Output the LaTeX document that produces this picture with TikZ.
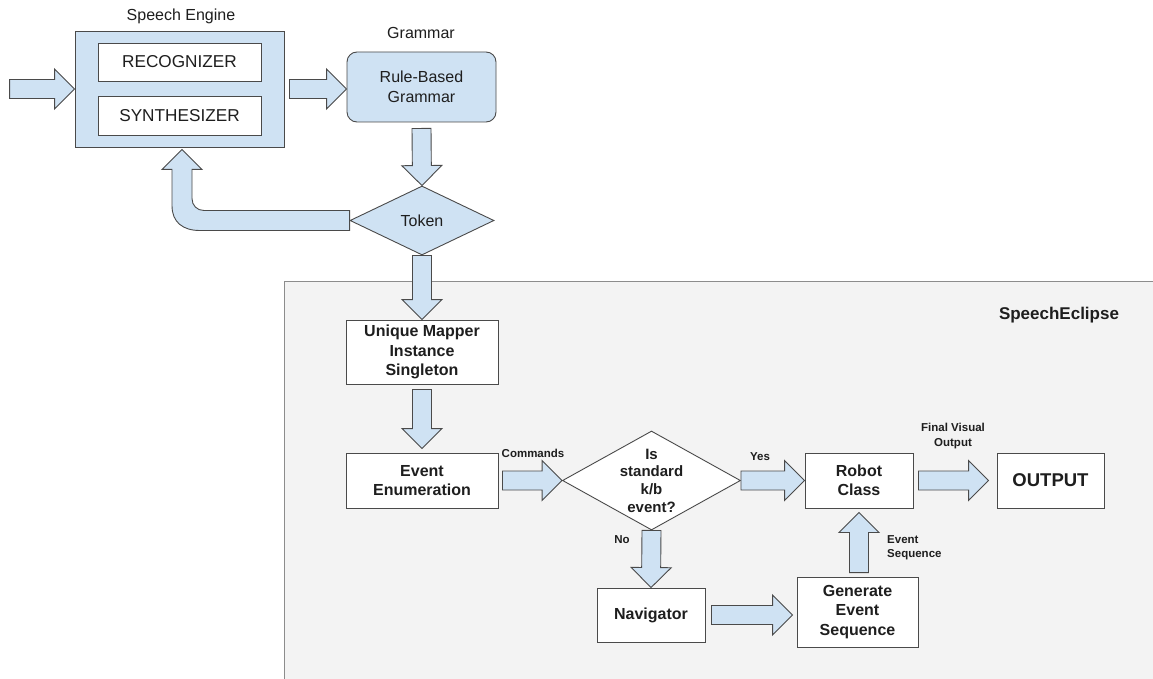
\documentclass[tikz,border=0pt]{standalone}
\usepackage{fontspec}
\setmainfont{Liberation Sans}
\usetikzlibrary{calc,shapes.geometric}
\definecolor{bfill}{HTML}{CFE2F3}
\definecolor{bline}{HTML}{4A4A4A}
\definecolor{gfill}{HTML}{F3F3F3}
\definecolor{gline}{HTML}{8C8C8C}
\definecolor{txt}{HTML}{1E1E1E}
\tikzset{
  barrow/.style={draw=bline, fill=bfill, line width=0.9pt, line join=miter},
  box/.style={draw=bline, fill=white, line width=0.9pt, inner sep=0pt, align=center, text=txt},
  bluebox/.style={box, fill=bfill},
  regtext/.style={font=\fontsize{16}{19.5}\selectfont},
  captext/.style={font=\fontsize{17.2}{20}\selectfont},
  boldtext/.style={font=\fontsize{16}{19.5}\selectfont\bfseries},
  smalltext/.style={font=\fontsize{11.5}{14.5}\selectfont\bfseries, text=txt, align=center, inner sep=0pt},
  dia/.style={shape=diamond, draw=bline, line width=0.9pt, inner sep=0pt},
}
\newcommand\BArrow[2]{%
  \path ($(#2)!20pt!(#1)$) coordinate (bb);
  \draw[barrow] ($(#1)!9.5pt!90:(#2)$) -- ($(bb)!9.5pt!90:(#2)$) -- ($(bb)!20pt!90:(#2)$) -- (#2)
    -- ($(bb)!20pt!-90:(#2)$) -- ($(bb)!9.5pt!-90:(#2)$) -- ($(#1)!9.5pt!-90:(#2)$) -- cycle;}
\begin{document}
\begin{tikzpicture}[x=1pt,y=-1pt]
\useasboundingbox[fill=white] (0,0) rectangle (1153,679);

% container
\node[draw=gline, fill=gfill, line width=1.3pt, minimum width=900pt, minimum height=420pt, anchor=north west, inner sep=0pt] (ecl) at (284,281) {};
\node[font=\fontsize{17}{20}\selectfont\bfseries, text=txt, inner sep=0pt] (ecllab) at (1059,315) {SpeechEclipse};

% speech engine
\node[bluebox, minimum width=209pt, minimum height=116pt] (se) at (179.5,89) {};
\node[box, captext, minimum width=163pt, minimum height=38pt] (rec) at (179.5,62) {RECOGNIZER};
\node[box, captext, minimum width=163pt, minimum height=39pt] (syn) at (179.5,115.5) {SYNTHESIZER};
\node[regtext, text=txt, inner sep=0pt] (selab) at (181,16) {Speech Engine};

% grammar
\node[bluebox, regtext, rounded corners=10pt, minimum width=149pt, minimum height=70pt] (gram) at (421.5,87) {Rule-Based\\Grammar};
\node[regtext, text=txt, inner sep=0pt] (gramlab) at (421,33) {Grammar};

% token
\node[dia, fill=bfill, minimum width=144pt, minimum height=69pt, label={[regtext, text=txt]center:Token}] (tok) at (422,220.5) {};

% main flow boxes
\node[box, boldtext, minimum width=152pt, minimum height=64pt] (map) at (422,352) {Unique Mapper\\Instance\\Singleton};
\node[box, boldtext, minimum width=152pt, minimum height=55pt] (evt) at (422,480.5) {Event\\Enumeration};
\node[dia, fill=white, minimum width=178pt, minimum height=99pt,
      label={[font=\fontsize{15}{17.7}\selectfont\bfseries, text=txt, align=center]center:Is\\standard\\k/b\\event?}] (dec) at (651.5,480.5) {};
\node[box, boldtext, minimum width=108pt, minimum height=55pt] (rob) at (859,480.5) {Robot\\Class};
\node[box, font=\fontsize{18.5}{22}\selectfont\bfseries, minimum width=107pt, minimum height=55pt] (out) at (1050.5,480.5) {OUTPUT};
\node[box, boldtext, minimum width=108pt, minimum height=54pt] (nav) at (651,615) {Navigator};
\node[box, boldtext, minimum width=121pt, minimum height=70pt] (gen) at (857.5,612) {Generate\\Event\\Sequence};

% arrow end points
\coordinate (in0) at ($(se.west)+(-65,0)$);
\coordinate (a1t) at ($(se.east)+(5,0)$);
\coordinate (a1h) at (gram.west|-a1t);
\coordinate (a2t) at ($(gram.south)+(0,6)$);
\coordinate (a4t) at ($(map.south)+(0,5)$);
\coordinate (a4h) at ($(evt.north)+(0,-4)$);
\coordinate (a5t) at ($(evt.east)+(4,0)$);
\coordinate (a8t) at ($(nav.east)+(6,0)$);
\coordinate (a8h) at ($(gen.west|-a8t)+(-4,0)$);
\coordinate (a9t) at ($(gen.north)+(1.5,-4)$);
\coordinate (a9h) at ($(rob.south)+(0,4)$);
\coordinate (a10t) at ($(rob.east)+(5,0)$);
\coordinate (a10h) at ($(out.west)+(-8,0)$);
\coordinate (fbtip) at ($(se.south)+(2.5,2)$);

% block arrows
\BArrow{in0}{se.west}
\BArrow{a1t}{a1h}
\BArrow{a2t}{tok.north}
\BArrow{tok.south}{map.north}
\BArrow{a4t}{a4h}
\BArrow{a5t}{dec.west}
\BArrow{dec.east}{rob.west}
\BArrow{dec.south}{nav.north}
\BArrow{a8t}{a8h}
\BArrow{a9t}{a9h}
\BArrow{a10t}{a10h}

% feedback arrow token -> speech engine
\coordinate (fbA) at ($(tok.west)+(0,-10)$);
\draw[barrow] (fbA) -- ($(fbtip|-fbA)+(22,0)$)
  .. controls +(-7,0) and +(0,7) .. ($(fbtip|-fbA)+(10,-12)$)
  -- ($(fbtip)+(10,20)$) -- ($(fbtip)+(20,20)$) -- (fbtip) -- ($(fbtip)+(-20,20)$) -- ($(fbtip)+(-10,20)$)
  -- ($(fbtip|-fbA)+(-10,-5)$)
  .. controls +(0,17) and +(-17,0) .. ($(fbtip|-fbA)+(18,20)$)
  -- ($(fbA)+(0,20)$) -- cycle;

% arrow labels
\node[smalltext] (lcmd) at (533,453) {Commands};
\node[smalltext] (lyes) at (760,457) {Yes};
\node[smalltext] (lno) at (622,540) {No};
\node[smalltext, align=left, anchor=west] (lseq) at (887,547.5) {Event\\Sequence};
\node[smalltext] (lfin) at (953,436) {Final Visual\\Output};
\end{tikzpicture}
\end{document}
